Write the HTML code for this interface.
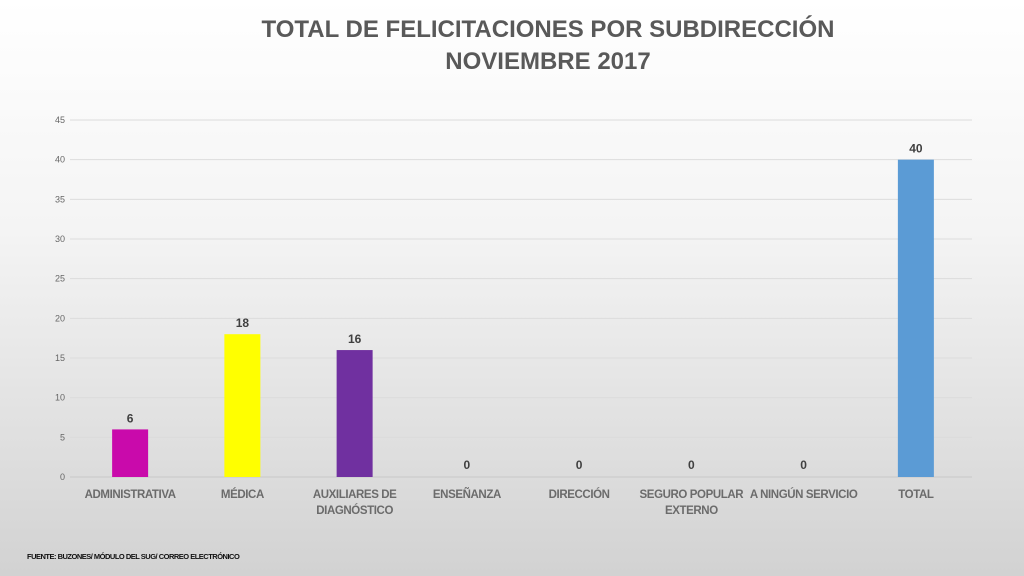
<!DOCTYPE html>
<html><head><meta charset="utf-8"><style>
html,body{margin:0;padding:0}
body{width:1024px;height:576px;overflow:hidden;background:linear-gradient(#ffffff 0%,#f4f4f4 40%,#d2d2d2 100%);font-family:"Liberation Sans",sans-serif;position:relative}
#title{position:absolute;left:0;top:14px;width:1096px;text-align:center;font-weight:bold;font-size:24px;line-height:32px;color:#595959}
#src{position:absolute;left:27px;top:552px;font-size:7.5px;font-weight:bold;color:#111;letter-spacing:-0.5px}
svg{position:absolute;left:0;top:0}
</style></head><body>
<div id="title">TOTAL DE FELICITACIONES POR SUBDIRECCIÓN<br>NOVIEMBRE 2017</div>
<svg id="chart" width="1024" height="576"></svg>
<div id="src">FUENTE: BUZONES/ MÓDULO DEL SUG/ CORREO ELECTRÓNICO</div>
<script>
const categories=[["ADMINISTRATIVA"],["MÉDICA"],["AUXILIARES DE","DIAGNÓSTICO"],["ENSEÑANZA"],["DIRECCIÓN"],["SEGURO POPULAR","EXTERNO"],["A NINGÚN SERVICIO"],["TOTAL"]];
const values=[6,18,16,0,0,0,0,40];
const colors=["#c90aab","#ffff00","#7030a0","#888","#888","#888","#888","#5b9bd5"];
const yTicks=[0,5,10,15,20,25,30,35,40,45];
const svg=document.getElementById('chart');const NS='http://www.w3.org/2000/svg';
const x0=74,x1=972,y0=477,yTop=120,yMax=45;
const y=v=>y0-(v/yMax)*(y0-yTop);
const step=(x1-x0)/categories.length;
const xc=i=>x0+step*(i+0.5);
function mk(t,a,txt){const e=document.createElementNS(NS,t);for(const k in a)e.setAttribute(k,a[k]);if(txt!==undefined)e.textContent=txt;svg.appendChild(e);return e;}
yTicks.forEach(t=>{
 const g=mk('line',{x1:70,x2:x1,y1:y(t),y2:y(t),stroke:t===0?'#c8c8c8':'#dcdcdc','stroke-width':1});
 
 
 const l=mk('text',{x:65,y:y(t)+3,'text-anchor':'end','font-size':9,fill:'#666','font-family':'Liberation Sans'},t);
 
 
});
values.forEach((v,i)=>{
 if(v>0){const r=mk('rect',{x:xc(i)-18,y:y(v),width:36,height:y0-y(v),fill:colors[i]});
 
 }
 const lab=mk('text',{x:xc(i),y:(v>0?y(v)-7:y0-8),'text-anchor':'middle','font-size':12,'font-weight':'bold',fill:'#404040','font-family':'Liberation Sans'},v);
 
 
 categories[i].forEach((s,j)=>{
  const c=mk('text',{x:xc(i),y:498+j*16,'text-anchor':'middle','font-size':11.5,'font-weight':'bold',fill:'#6b6b6b','font-family':'Liberation Sans','letter-spacing':'-0.4'},s);
  
  
 });
});
</script>
</body></html>
